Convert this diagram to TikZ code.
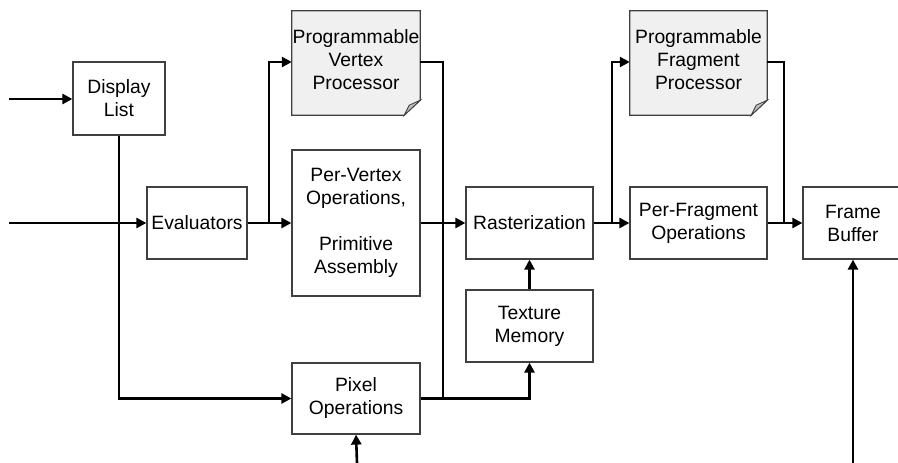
\documentclass[tikz,border=0pt]{standalone}
\usepackage{fontspec}
\setmainfont{Liberation Sans}
\usetikzlibrary{arrows.meta,calc}
\definecolor{boxline}{HTML}{404040}
\definecolor{progfill}{HTML}{F0F0F0}
\definecolor{foldfill}{HTML}{C0C0C0}
\tikzset{
  blk/.style={draw=boxline, line width=1.2pt, fill=white, align=center, inner sep=0pt,
    font=\fontsize{19.3}{23}\selectfont},
  progblk/.style={draw=none, align=center, inner sep=0pt,
    font=\fontsize{19.3}{23}\selectfont},
  wire/.style={line width=2.6pt, line join=miter},
  flow/.style={wire, -{Triangle[length=10pt,width=10pt]}},
}
\begin{document}
\begin{tikzpicture}[x=1pt,y=-1pt]
\clip (0,0) rectangle (898,463);
\fill[white] (0,0) rectangle (898,463);

\node[blk, minimum width=92pt, minimum height=73pt] (dl) at (119,98.5) {Display\\List};
\node[blk, minimum width=100pt, minimum height=72pt] (ev) at (197,223) {Evaluators};
\node[progblk, minimum width=128pt, minimum height=104pt] (pvp) at (356,63) {};
\node[blk, minimum width=128pt, minimum height=146pt] (pv) at (356,223) {Per-Vertex\\Operations,\\[23pt]Primitive\\Assembly};
\node[blk, minimum width=127pt, minimum height=72pt] (ras) at (529.5,223) {Rasterization};
\node[blk, minimum width=127pt, minimum height=72pt] (tm) at (529.5,326) {Texture\\Memory};
\node[blk, minimum width=128pt, minimum height=71pt] (po) at (356,398.5) {Pixel\\Operations};
\node[progblk, minimum width=137pt, minimum height=104pt] (pfp) at (698.5,63) {};
\node[blk, minimum width=137pt, minimum height=72pt] (pf) at (698.5,223) {Per-Fragment\\Operations};
\node[blk, minimum width=100pt, minimum height=72pt] (fb) at (853,223) {Frame\\Buffer};

% dog-eared programmable boxes
\foreach \n in {pvp,pfp}{
  \filldraw[draw=boxline, line width=1.2pt, fill=progfill]
    (\n.north west) -- (\n.north east) -- ([yshift=15pt]\n.south east)
    -- ([xshift=-16pt]\n.south east) -- (\n.south west) -- cycle;
  \filldraw[draw=boxline, line width=0.8pt, fill=foldfill]
    ([yshift=15pt]\n.south east) -- ([xshift=-16pt]\n.south east)
    -- ([xshift=-11pt,yshift=10pt]\n.south east) -- cycle;
}
\node[progblk] (pvpt) at ([yshift=3pt]pvp.center) {Programmable\\Vertex\\Processor};
\node[progblk] (pfpt) at ([yshift=3pt]pfp.center) {Programmable\\Fragment\\Processor};

\coordinate (in1) at (9,99);
\coordinate (in2) at (9,223);
\coordinate (in3) at (357,463);
\coordinate (in4) at (853,463);
\coordinate (b1) at (269,223);
\coordinate (b2) at (612,223);
\coordinate (j2) at (784,223);
\coordinate (j1) at (443,398);

\draw[flow] (in1) -- (dl.west |- in1);
\draw[flow] (in2) -- (ev.west);
\draw[flow] (dl.south) |- (po.west);
\draw[wire] (ev.east) -- (b1);
\draw[flow] (b1) -- (pv.west);
\draw[flow] (b1) |- (pvp.west |- 0,62);
\draw[wire] (pvp.east |- 0,62) -| (j1);
\draw[flow] (pv.east) -- (ras.west);
\draw[flow] (po.east) -| (tm.south);
\draw[flow] (tm.north) -- (ras.south);
\draw[flow] (in3) -- (po.south);
\draw[wire] (ras.east) -- (b2);
\draw[flow] (b2) -- (pf.west);
\draw[flow] (b2) |- (pfp.west |- 0,62);
\draw[wire] (pfp.east |- 0,62) -| (j2);
\draw[flow] (pf.east) -- (fb.west);
\draw[flow] (in4) -- (fb.south);
\end{tikzpicture}
\end{document}
